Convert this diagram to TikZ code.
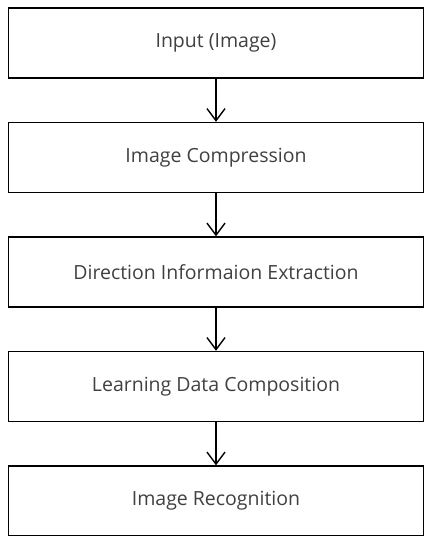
\documentclass[tikz,border=0pt]{standalone}
\usepackage{fontspec}
\setmainfont{Open Sans}
\usetikzlibrary{positioning,arrows.meta}

\begin{document}
\begin{tikzpicture}[
    x=1pt,
    y=1pt,
    node distance=43pt,
    stepbox/.style={
        draw=black,
        line width=1.5pt,
        minimum width=415pt,
        minimum height=70pt,
        text=black!75,
        font=\fontsize{19.5}{23}\selectfont,
        align=center
    },
    arr/.style={
        -{Straight Barb[length=12pt,width=18pt]},
        line width=1.4pt,
        draw=black
    }
]

    \useasboundingbox (0,0) rectangle (425,-536);

    \node[stepbox] (input) at (216,-43) {Input (Image)};

    \node[stepbox, below=of input] (compression)
        {Image Compression};

    \node[stepbox, below=of compression] (direction)
        {Direction Informaion Extraction};

    \node[stepbox, below=of direction] (learning)
        {Learning Data Composition};

    \node[stepbox, below=of learning] (recognition)
        {Image Recognition};

    \draw[arr] (input) -- (compression);
    \draw[arr] (compression) -- (direction);
    \draw[arr] (direction) -- (learning);
    \draw[arr] (learning) -- (recognition);

\end{tikzpicture}
\end{document}
